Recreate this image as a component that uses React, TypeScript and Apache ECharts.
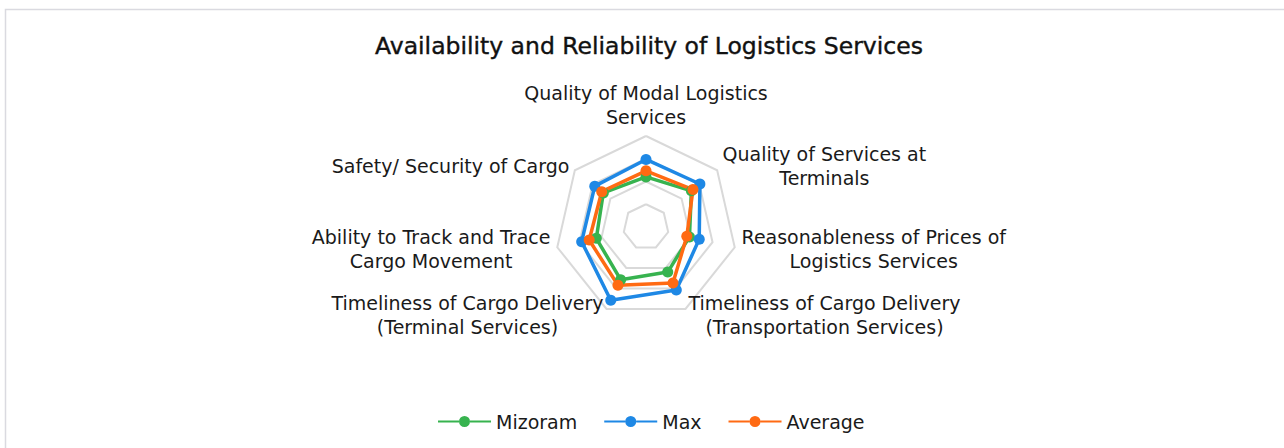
import React, { useEffect, useRef } from "react";
import * as echarts from "echarts";

// Indicators listed clockwise starting at the top (as in the reference)
const indicators = [
  "Quality of Modal Logistics\nServices",
  "Quality of Services at\nTerminals",
  "Reasonableness of Prices of\nLogistics Services",
  "Timeliness of Cargo Delivery\n(Transportation Services)",
  "Timeliness of Cargo Delivery\n(Terminal Services)",
  "Ability to Track and Trace\nCargo Movement",
  "Safety/ Security of Cargo",
];
const mizoram = [2.2, 2.55, 1.96, 2.2, 2.57, 2.24, 2.4];
const maxVals = [2.97, 3.03, 2.4, 3.07, 3.57, 2.9, 2.88];
const average = [2.47, 2.64, 1.84, 2.73, 2.84, 2.56, 2.49];
const seriesNames = ["Mizoram", "Max", "Average"];
const colors = ["#37B34F", "#1E88E5", "#FF6A13"];
const FONT = "'DejaVu Sans', sans-serif";

// ECharts lays radar indicators counter-clockwise; reorder to get clockwise
const order = indicators.map((_, i) => (i === 0 ? 0 : indicators.length - i));
const reorder = <T,>(arr: T[]) => order.map((i) => arr[i]);

const legendIcon =
  "path://M0,4.5H21V6.5H0Z M32,4.5H53V6.5H32Z M21,5.5A5.5,5.5 0 1 0 32,5.5A5.5,5.5 0 1 0 21,5.5Z";

export default function App() {
  const ref = useRef<HTMLDivElement>(null);
  useEffect(() => {
    if (!ref.current) return;
    const chart = echarts.init(ref.current, null, { renderer: "svg" });
    const data = [mizoram, maxVals, average];
    chart.setOption({
      animation: false,
      backgroundColor: "#fff",
      title: {
        text: "Availability and Reliability of Logistics Services",
        left: 644,
        textAlign: "center",
        top: 29,
        textStyle: { fontFamily: FONT, fontSize: 23.5, fontWeight: "normal", color: "#111", textBorderColor: "#111", textBorderWidth: 0.4 },
      },
      graphic: [
        {
          type: "rect",
          shape: { x: 5.5, y: 9.5, width: 1400, height: 600 },
          style: { fill: "none", stroke: "#dadae0", lineWidth: 1.5 },
          silent: true,
        },
      ],
      legend: {
        data: seriesNames,
        left: 433,
        top: 407,
        icon: legendIcon,
        itemWidth: 53,
        itemHeight: 11,
        itemGap: 27,
        textStyle: { fontFamily: FONT, fontSize: 19, color: "#1a1a1a" },
      },
      radar: {
        center: [646, 227],
        radius: 91,
        startAngle: 90,
        shape: "polygon",
        splitNumber: 4,
        nameGap: 7,
        indicator: reorder(indicators).map((n) => ({ name: n, min: 0, max: 4 })),
        axisName: {
          color: "#1a1a1a",
          fontFamily: FONT,
          fontSize: 19,
          lineHeight: 24,
          formatter: (name: string) =>
            name
              .split("\n")
              .map((l) => `{c|${l}}`)
              .join("\n"),
          rich: { c: { align: "center", fontFamily: FONT, fontSize: 19, lineHeight: 24, color: "#1a1a1a" } },
        },
        splitLine: { lineStyle: { color: "#d9d9d9", width: 2 } },
        splitArea: { show: false },
        axisLine: { show: false },
        axisTick: { show: false },
        axisLabel: { show: false },
      },
      series: [
        {
          type: "radar",
          data: seriesNames.map((name, i) => ({
            name,
            value: reorder(data[i]),
            symbol: "circle",
            symbolSize: 11,
            lineStyle: { color: colors[i], width: 3.5 },
            itemStyle: { color: colors[i] },
          })),
        },
      ],
      color: colors,
    });
    return () => chart.dispose();
  }, []);
  return (
    <div
      ref={ref}
      style={{ position: "fixed", left: 0, top: 0, width: 1284, height: 448 }}
    />
  );
}
